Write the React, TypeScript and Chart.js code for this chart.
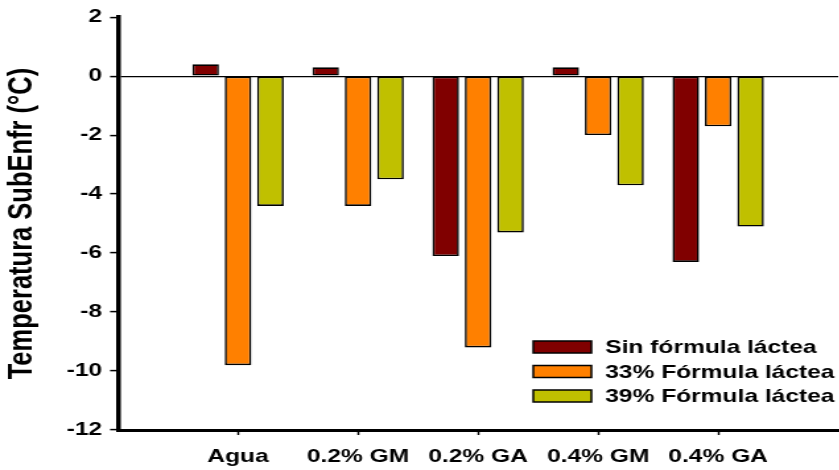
import React, { useEffect, useRef } from "react";
import { Chart, registerables } from "chart.js";

Chart.register(...registerables);

// Supercooling temperature by treatment and milk-formula level
const categories = ["Agua", "0.2% GM", "0.2% GA", "0.4% GM", "0.4% GA"];
const sinFormula = [0.4, 0.3, -6.1, 0.3, -6.3];
const formula33 = [-9.8, -4.4, -9.2, -2.0, -1.7];
const formula39 = [-4.4, -3.5, -5.3, -3.7, -5.1];
const seriesNames = ["Sin fórmula láctea", "33% Fórmula láctea", "39% Fórmula láctea"];
const yTitle = "Temperatura SubEnfr (°C)";
const yMin = -12;
const yMax = 2;
const yStep = 2;

// the figure is drawn narrow and widened horizontally by CSS
const SX = 1.32;
const CANVAS_W = 646;
const CANVAS_H = 470;
const FONT = "'Liberation Sans', Arial, Helvetica, sans-serif";

// empty slots on both sides leave one category width of margin
const labels = ["", ...categories, ""];
const pad = (arr: number[]) => [null, ...arr, null];

const boxLegend = {
  id: "boxLegend",
  afterDraw(chart: any, _args: any, opts: any) {
    const ctx = chart.ctx;
    ctx.save();
    ctx.font = `bold ${opts.fontSize}px ${FONT}`;
    ctx.textBaseline = "middle";
    ctx.textAlign = "left";
    chart.data.datasets.forEach((ds: any, i: number) => {
      const cy = opts.y + i * opts.rowH;
      ctx.fillStyle = ds.backgroundColor;
      ctx.fillRect(opts.x, cy - opts.boxH / 2, opts.boxW, opts.boxH);
      ctx.lineWidth = 1.5;
      ctx.strokeStyle = "#000";
      ctx.strokeRect(opts.x, cy - opts.boxH / 2, opts.boxW, opts.boxH);
      ctx.fillStyle = "#000";
      ctx.fillText(ds.label, opts.x + opts.boxW + 10.5, cy + 1);
    });
    ctx.restore();
  },
};

export default function App() {
  const ref = useRef<HTMLCanvasElement>(null);

  useEffect(() => {
    if (!ref.current) return;
    const chart = new Chart(ref.current, {
      type: "bar",
      data: {
        labels,
        datasets: [
          { label: seriesNames[0], data: pad(sinFormula), backgroundColor: "#800000" },
          { label: seriesNames[1], data: pad(formula33), backgroundColor: "#FF8000" },
          { label: seriesNames[2], data: pad(formula39), backgroundColor: "#C0C000" },
        ].map((d) => ({
          ...d,
          borderColor: "#000",
          borderWidth: 1.6,
          borderSkipped: false,
          categoryPercentage: 0.81,
          barPercentage: 0.82,
        })),
      },
      options: {
        responsive: false,
        animation: false,
        devicePixelRatio: 1,
        layout: { padding: { top: 16, right: 2, left: 0, bottom: 0 } },
        plugins: {
          legend: { display: false },
          tooltip: { enabled: false },
          boxLegend: { x: 404, y: 347, rowH: 24.5, boxW: 44, boxH: 12, fontSize: 18.6 },
        } as any,
        scales: {
          x: {
            offset: false,
            grid: {
              offset: false,
              drawOnChartArea: false,
              drawTicks: true,
              tickLength: 5,
              tickWidth: 1.5,
              tickColor: (c: any) =>
                c.index === 0 || c.index === labels.length - 1 ? "rgba(0,0,0,0)" : "#000",
            },
            border: { display: true, color: "#000", width: 3 },
            ticks: {
              color: "#000",
              padding: 11,
              maxRotation: 0,
              autoSkip: false,
              font: { family: FONT, size: 18.6, weight: "bold" },
            },
            afterFit: (s: any) => {
              s.height = 40;
            },
          },
          y: {
            min: yMin,
            max: yMax,
            ticks: {
              stepSize: yStep,
              color: "#000",
              padding: 6,
              font: { family: FONT, size: 18.6, weight: "bold" },
            },
            grid: {
              drawTicks: true,
              tickLength: 6,
              tickWidth: 1.5,
              tickColor: "#000",
              lineWidth: 1.2,
              color: (c: any) => (c.tick && c.tick.value === 0 ? "#000" : "rgba(0,0,0,0)"),
            },
            border: { display: true, color: "#000", width: 3.5 },
            title: {
              display: true,
              text: yTitle,
              color: "#000",
              padding: { top: 2, bottom: 0 },
              font: { family: FONT, size: 25.5, weight: "bold" },
            },
            afterFit: (s: any) => {
              s.width = 118 / SX;
            },
          },
        },
      },
      plugins: [boxLegend],
    });
    return () => chart.destroy();
  }, []);

  return (
    <div
      style={{
        position: "fixed",
        left: 0,
        top: 0,
        width: 839,
        height: 470,
        overflow: "hidden",
        background: "#fff",
      }}
    >
      <div style={{ transform: `scaleX(${SX})`, transformOrigin: "0 0", width: CANVAS_W, height: CANVAS_H }}>
        <canvas ref={ref} width={CANVAS_W} height={CANVAS_H} style={{ display: "block" }} />
      </div>
    </div>
  );
}
